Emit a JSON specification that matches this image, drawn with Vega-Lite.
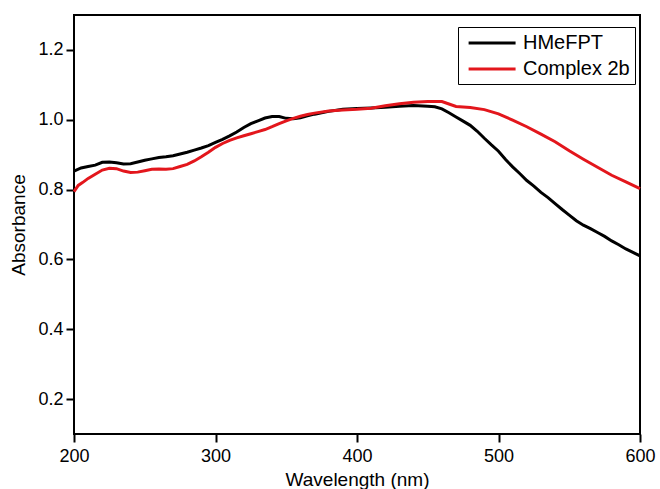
{
  "$schema": "https://vega.github.io/schema/vega-lite/v6.json",
  "autosize": {"type": "none"},
  "padding": {"left": 74, "top": 15, "right": 20, "bottom": 55},
  "width": 566,
  "height": 419,
  "background": "white",
  "config": {
    "font": "Liberation Sans",
    "view": {"stroke": "black", "strokeWidth": 2},
    "axis": {"grid": false, "domain": false, "tickColor": "black", "tickWidth": 2, "tickSize": 8,
             "labelFont": "Liberation Sans", "labelFontSize": 18, "labelColor": "black",
             "titleFont": "Liberation Sans", "titleFontSize": 19, "titleFontWeight": "normal", "titleColor": "black"}
  },
  "data": {"values": [
    {"wl":200,"abs":0.853,"series":"HMeFPT"},{"wl":205,"abs":0.862,"series":"HMeFPT"},{"wl":210,"abs":0.866,"series":"HMeFPT"},{"wl":215,"abs":0.870,"series":"HMeFPT"},{"wl":220,"abs":0.878,"series":"HMeFPT"},{"wl":225,"abs":0.879,"series":"HMeFPT"},{"wl":230,"abs":0.877,"series":"HMeFPT"},{"wl":235,"abs":0.873,"series":"HMeFPT"},{"wl":240,"abs":0.874,"series":"HMeFPT"},{"wl":245,"abs":0.879,"series":"HMeFPT"},{"wl":250,"abs":0.884,"series":"HMeFPT"},{"wl":255,"abs":0.888,"series":"HMeFPT"},{"wl":260,"abs":0.892,"series":"HMeFPT"},{"wl":265,"abs":0.894,"series":"HMeFPT"},{"wl":270,"abs":0.897,"series":"HMeFPT"},{"wl":275,"abs":0.902,"series":"HMeFPT"},{"wl":280,"abs":0.907,"series":"HMeFPT"},{"wl":285,"abs":0.913,"series":"HMeFPT"},{"wl":290,"abs":0.919,"series":"HMeFPT"},{"wl":295,"abs":0.926,"series":"HMeFPT"},{"wl":300,"abs":0.935,"series":"HMeFPT"},{"wl":305,"abs":0.944,"series":"HMeFPT"},{"wl":310,"abs":0.954,"series":"HMeFPT"},{"wl":315,"abs":0.965,"series":"HMeFPT"},{"wl":320,"abs":0.978,"series":"HMeFPT"},{"wl":325,"abs":0.989,"series":"HMeFPT"},{"wl":330,"abs":0.997,"series":"HMeFPT"},{"wl":335,"abs":1.005,"series":"HMeFPT"},{"wl":340,"abs":1.009,"series":"HMeFPT"},{"wl":345,"abs":1.009,"series":"HMeFPT"},{"wl":350,"abs":1.004,"series":"HMeFPT"},{"wl":355,"abs":1.003,"series":"HMeFPT"},{"wl":360,"abs":1.006,"series":"HMeFPT"},{"wl":365,"abs":1.011,"series":"HMeFPT"},{"wl":370,"abs":1.016,"series":"HMeFPT"},{"wl":375,"abs":1.020,"series":"HMeFPT"},{"wl":380,"abs":1.024,"series":"HMeFPT"},{"wl":390,"abs":1.030,"series":"HMeFPT"},{"wl":400,"abs":1.032,"series":"HMeFPT"},{"wl":410,"abs":1.034,"series":"HMeFPT"},{"wl":420,"abs":1.036,"series":"HMeFPT"},{"wl":430,"abs":1.039,"series":"HMeFPT"},{"wl":440,"abs":1.041,"series":"HMeFPT"},{"wl":450,"abs":1.039,"series":"HMeFPT"},{"wl":455,"abs":1.037,"series":"HMeFPT"},{"wl":460,"abs":1.031,"series":"HMeFPT"},{"wl":465,"abs":1.020,"series":"HMeFPT"},{"wl":470,"abs":1.008,"series":"HMeFPT"},{"wl":475,"abs":0.996,"series":"HMeFPT"},{"wl":480,"abs":0.984,"series":"HMeFPT"},{"wl":485,"abs":0.967,"series":"HMeFPT"},{"wl":490,"abs":0.947,"series":"HMeFPT"},{"wl":495,"abs":0.928,"series":"HMeFPT"},{"wl":500,"abs":0.910,"series":"HMeFPT"},{"wl":505,"abs":0.886,"series":"HMeFPT"},{"wl":510,"abs":0.865,"series":"HMeFPT"},{"wl":515,"abs":0.846,"series":"HMeFPT"},{"wl":520,"abs":0.826,"series":"HMeFPT"},{"wl":525,"abs":0.810,"series":"HMeFPT"},{"wl":530,"abs":0.792,"series":"HMeFPT"},{"wl":535,"abs":0.777,"series":"HMeFPT"},{"wl":540,"abs":0.760,"series":"HMeFPT"},{"wl":545,"abs":0.743,"series":"HMeFPT"},{"wl":550,"abs":0.727,"series":"HMeFPT"},{"wl":555,"abs":0.711,"series":"HMeFPT"},{"wl":560,"abs":0.698,"series":"HMeFPT"},{"wl":565,"abs":0.688,"series":"HMeFPT"},{"wl":570,"abs":0.677,"series":"HMeFPT"},{"wl":575,"abs":0.666,"series":"HMeFPT"},{"wl":580,"abs":0.653,"series":"HMeFPT"},{"wl":585,"abs":0.642,"series":"HMeFPT"},{"wl":590,"abs":0.630,"series":"HMeFPT"},{"wl":595,"abs":0.620,"series":"HMeFPT"},{"wl":600,"abs":0.610,"series":"HMeFPT"},
    {"wl":200,"abs":0.794,"series":"Complex 2b"},{"wl":203,"abs":0.812,"series":"Complex 2b"},{"wl":206,"abs":0.820,"series":"Complex 2b"},{"wl":210,"abs":0.832,"series":"Complex 2b"},{"wl":215,"abs":0.844,"series":"Complex 2b"},{"wl":220,"abs":0.856,"series":"Complex 2b"},{"wl":225,"abs":0.861,"series":"Complex 2b"},{"wl":230,"abs":0.860,"series":"Complex 2b"},{"wl":235,"abs":0.853,"series":"Complex 2b"},{"wl":240,"abs":0.849,"series":"Complex 2b"},{"wl":245,"abs":0.850,"series":"Complex 2b"},{"wl":250,"abs":0.854,"series":"Complex 2b"},{"wl":255,"abs":0.858,"series":"Complex 2b"},{"wl":260,"abs":0.859,"series":"Complex 2b"},{"wl":265,"abs":0.858,"series":"Complex 2b"},{"wl":270,"abs":0.860,"series":"Complex 2b"},{"wl":275,"abs":0.866,"series":"Complex 2b"},{"wl":280,"abs":0.872,"series":"Complex 2b"},{"wl":285,"abs":0.882,"series":"Complex 2b"},{"wl":290,"abs":0.894,"series":"Complex 2b"},{"wl":295,"abs":0.907,"series":"Complex 2b"},{"wl":300,"abs":0.921,"series":"Complex 2b"},{"wl":305,"abs":0.932,"series":"Complex 2b"},{"wl":310,"abs":0.941,"series":"Complex 2b"},{"wl":315,"abs":0.948,"series":"Complex 2b"},{"wl":320,"abs":0.954,"series":"Complex 2b"},{"wl":325,"abs":0.960,"series":"Complex 2b"},{"wl":330,"abs":0.966,"series":"Complex 2b"},{"wl":335,"abs":0.972,"series":"Complex 2b"},{"wl":340,"abs":0.980,"series":"Complex 2b"},{"wl":345,"abs":0.989,"series":"Complex 2b"},{"wl":350,"abs":0.997,"series":"Complex 2b"},{"wl":355,"abs":1.004,"series":"Complex 2b"},{"wl":360,"abs":1.010,"series":"Complex 2b"},{"wl":365,"abs":1.015,"series":"Complex 2b"},{"wl":370,"abs":1.019,"series":"Complex 2b"},{"wl":380,"abs":1.025,"series":"Complex 2b"},{"wl":390,"abs":1.028,"series":"Complex 2b"},{"wl":400,"abs":1.030,"series":"Complex 2b"},{"wl":410,"abs":1.033,"series":"Complex 2b"},{"wl":420,"abs":1.040,"series":"Complex 2b"},{"wl":430,"abs":1.046,"series":"Complex 2b"},{"wl":440,"abs":1.050,"series":"Complex 2b"},{"wl":450,"abs":1.052,"series":"Complex 2b"},{"wl":460,"abs":1.052,"series":"Complex 2b"},{"wl":465,"abs":1.045,"series":"Complex 2b"},{"wl":470,"abs":1.038,"series":"Complex 2b"},{"wl":480,"abs":1.035,"series":"Complex 2b"},{"wl":490,"abs":1.029,"series":"Complex 2b"},{"wl":500,"abs":1.017,"series":"Complex 2b"},{"wl":510,"abs":0.999,"series":"Complex 2b"},{"wl":520,"abs":0.980,"series":"Complex 2b"},{"wl":530,"abs":0.959,"series":"Complex 2b"},{"wl":540,"abs":0.937,"series":"Complex 2b"},{"wl":550,"abs":0.911,"series":"Complex 2b"},{"wl":560,"abs":0.887,"series":"Complex 2b"},{"wl":570,"abs":0.864,"series":"Complex 2b"},{"wl":580,"abs":0.841,"series":"Complex 2b"},{"wl":590,"abs":0.822,"series":"Complex 2b"},{"wl":600,"abs":0.803,"series":"Complex 2b"}
  ]},
  "mark": {"type": "line", "strokeWidth": 3, "interpolate": "linear"},
  "encoding": {
    "x": {"field": "wl", "type": "quantitative", "title": "Wavelength (nm)",
          "scale": {"domain": [200, 600], "nice": false, "zero": false},
          "axis": {"values": [200, 300, 400, 500, 600], "labelPadding": 5, "titlePadding": 5, "labelFlush": false}},
    "y": {"field": "abs", "type": "quantitative", "title": "Absorbance",
          "scale": {"domain": [0.1, 1.3], "nice": false, "zero": false},
          "axis": {"values": [0.2, 0.4, 0.6, 0.8, 1.0, 1.2], "format": ".1f", "labelPadding": 3, "titlePadding": 9}},
    "color": {"field": "series", "type": "nominal",
              "scale": {"domain": ["HMeFPT", "Complex 2b"], "range": ["#000000", "#e3161c"]},
              "legend": {"title": null, "orient": "none", "legendX": 384, "legendY": 12,
                         "direction": "vertical", "strokeColor": "black", "fillColor": "white",
                         "padding": 5, "symbolOffset": 4, "symbolType": "M-1,0H4", "symbolSize": 353, "symbolStrokeWidth": 3,
                         "labelFont": "Liberation Sans", "labelFontSize": 20, "labelColor": "black",
                         "labelOffset": 34, "rowPadding": 5}},
    "order": {"field": "wl", "type": "quantitative"}
  }
}
